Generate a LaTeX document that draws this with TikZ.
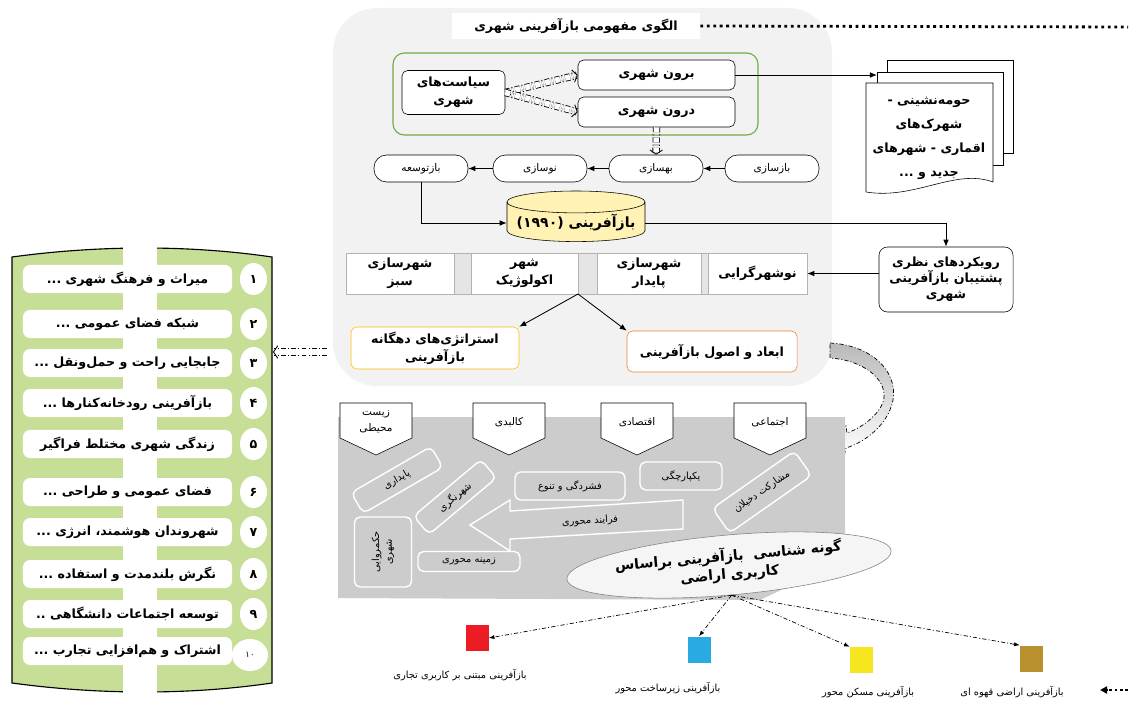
\documentclass[tikz,border=0pt]{standalone}
\usepackage{fontspec}
\usetikzlibrary{arrows.meta,shapes.geometric}
\TeXXeTstate=1
\newfontfamily\farsi[Script=Arabic]{DejaVu Sans}
\newcommand{\fa}[1]{\beginR #1\endR}
\definecolor{grn}{RGB}{112,173,71}
\definecolor{lgrn}{RGB}{199,222,150}
\definecolor{yel}{RGB}{255,192,0}
\definecolor{org}{RGB}{237,125,49}
\definecolor{cyl}{RGB}{255,242,180}
\definecolor{sqred}{RGB}{237,28,36}
\definecolor{sqblue}{RGB}{41,171,226}
\definecolor{sqyel}{RGB}{245,230,31}
\definecolor{sqbrn}{RGB}{184,144,46}
\begin{document}
\begin{tikzpicture}[x=0.025cm, y=-0.025cm,
  every node/.style={font=\farsi\fontsize{8}{11}\selectfont, align=center, inner sep=1pt},
  box/.style={draw, rounded corners=4pt, fill=white, font=\farsi\bfseries\fontsize{9}{12.5}\selectfont},
  pill/.style={draw, rounded corners=9pt, fill=white, minimum width=2.35cm, minimum height=0.675cm, font=\farsi\fontsize{7.5}{9}\selectfont},
  rowbox/.style={draw=gray!60, fill=white, minimum height=1.025cm, font=\farsi\bfseries\fontsize{9}{12.5}\selectfont},
  item/.style={fill=white, rounded corners=5pt, minimum width=5.225cm, minimum height=0.7cm, font=\farsi\bfseries\fontsize{9}{12}\selectfont},
  num/.style={ellipse, fill=white, minimum width=0.675cm, minimum height=0.8cm, inner sep=0pt, font=\farsi\bfseries\fontsize{9}{12}\selectfont},
  wbox/.style={draw=white, line width=1pt, rounded corners=4pt, minimum height=0.6cm, font=\farsi\fontsize{7}{9}\selectfont},
  tabtext/.style={font=\farsi\fontsize{7.5}{11}\selectfont},
  arr/.style={-{Latex[length=5pt,width=4pt]}, line width=0.6pt},
  hollow/.style={double, double distance=4pt, line width=0.6pt, dash pattern=on 3.5pt off 1.5pt on 0.8pt off 1.5pt, -{Straight Barb[length=3pt,width=9pt]}},
  dd/.style={dash pattern=on 3pt off 1.5pt on 0.7pt off 1.5pt, -{Latex[length=4pt,width=3pt]}, line width=0.5pt},
  sq/.style={minimum width=0.575cm, minimum height=0.65cm, inner sep=0pt},
  lbl/.style={font=\farsi\fontsize{7}{9}\selectfont}
]
\useasboundingbox (0,0) rectangle (1130,702);
% upper panel
\fill[gray!10, rounded corners=1.1cm] (333,8) rectangle (832,386);
\node[fill=white, minimum width=6.2cm, minimum height=0.65cm, font=\farsi\bfseries\fontsize{9}{11}\selectfont] (ttl) at (576,26) {\fa{الگوی مفهومی بازآفرینی شهری}};
\coordinate (dtl) at (1128,27);
\draw[line width=2pt, dash pattern=on 2pt off 2.6pt] (ttl.east) -- (dtl);
\draw[grn, line width=0.8pt, rounded corners=8pt] (393,53) rectangle (758,135);
\node[box, minimum width=2.575cm, minimum height=1.1cm] (pol) at (453.5,92.5) {\fa{سیاست^^^^200cهای}\\\fa{شهری}};
\node[box, minimum width=3.925cm, minimum height=0.75cm] (bor) at (656.5,75) {\fa{برون شهری}};
\node[box, minimum width=3.925cm, minimum height=0.75cm] (dar) at (656.5,112) {\fa{درون شهری}};
\draw[hollow] (pol.east) -- (bor.west);
\draw[hollow] (pol.east) -- (dar.west);
% documents
\draw[fill=white] (887,60) rectangle (1013,153);
\draw[fill=white] (877,72) rectangle (1003,165);
\draw[fill=white] (866,83) -- (993,83) -- (993,182) .. controls (955,168) and (915,200) .. (866,192) -- cycle;
\node[font=\farsi\bfseries\fontsize{9}{17}\selectfont] (doc) at (929,138) {\fa{حومه^^^^200cنشینی -}\\\fa{شهرک^^^^200cهای}\\\fa{اقماری - شهرهای}\\\fa{جدید و ...}};
\coordinate (dm) at (877,75);
\draw[arr] (bor.east) -- (dm);
% pills
\node[pill] (p0) at (421,168.5) {\fa{بازتوسعه}};
\node[pill] (p1) at (540,168.5) {\fa{نوسازی}};
\node[pill] (p2) at (656,168.5) {\fa{بهسازی}};
\node[pill] (p3) at (772,168.5) {\fa{بازسازی}};
\draw[hollow] (dar.south) -- (p2.north);
\draw[arr] (p3.west) -- (p2.east);
\draw[arr] (p2.west) -- (p1.east);
\draw[arr] (p1.west) -- (p0.east);
\node[cylinder, shape border rotate=90, aspect=0.18, draw, fill=cyl, minimum width=3.45cm, minimum height=1.1cm, font=\farsi\bfseries\fontsize{10}{12}\selectfont] (cy) at (576,223) {\fa{بازآفرینی (۱۹۹۰)}};
\draw[arr] (p0.south) |- (cy.west);
\node[box, minimum width=3.35cm, minimum height=1.625cm, rounded corners=6pt, font=\farsi\bfseries\fontsize{9}{11.5}\selectfont] (rv) at (946,279.5) {\fa{رویکردهای نظری}\\\fa{پشتیبان بازآفرینی}\\\fa{شهری}};
\draw[arr] (cy.east) -| (rv.north);
% row of four
\draw[gray!60, fill=gray!20] (346,253) rectangle (807,294);
\node[rowbox, minimum width=2.7cm] (rs1) at (400,273.5) {\fa{شهرسازی}\\\fa{سبز}};
\node[rowbox, minimum width=2.675cm] (rs2) at (524.5,273.5) {\fa{شهر}\\\fa{اکولوژیک}};
\node[rowbox, minimum width=2.6cm] (rs3) at (649,273.5) {\fa{شهرسازی}\\\fa{پایدار}};
\node[rowbox, minimum width=2.475cm] (rs4) at (757.5,273.5) {\fa{نوشهرگرایی}};
\draw[arr] (rv.west |- rs4.east) -- (rs4.east);
\node[box, draw=yel, minimum width=4.2cm, minimum height=1.05cm] (st) at (435,348) {\fa{استراتژی^^^^200cهای دهگانه}\\\fa{بازآفرینی}};
\node[box, draw=org, minimum width=4.25cm, minimum height=1.025cm] (ab) at (712,351.5) {\fa{ابعاد و اصول بازآفرینی}};
\coordinate (rb) at (578,294);
\draw[arr] (rb) -- (st.north east);
\draw[arr] (rb) -- (ab.north west);
% list panel
\fill[lgrn] (12,257) .. controls (100,245) and (190,245) .. (272,257) -- (272,683) .. controls (190,695) and (100,695) .. (12,683) -- cycle;
\draw[line width=0.8pt] (12,257) .. controls (100,245) and (190,245) .. (272,257) -- (272,683) .. controls (190,695) and (100,695) .. (12,683) -- cycle;
\fill[white] (123,243) rectangle (157,697);
\node[item] (it1) at (127.5,279) {\fa{میراث و فرهنگ شهری ...}};
\node[num] (n1) at (253.5,279) {۱};
\node[item] (it2) at (127.5,324) {\fa{شبکه فضای عمومی ...}};
\node[num] (n2) at (253.5,324) {۲};
\node[item] (it3) at (127.5,363) {\fa{جابجایی راحت و حمل^^^^200cونقل ...}};
\node[num] (n3) at (253.5,363) {۳};
\node[item] (it4) at (127.5,403) {\fa{بازآفرینی رودخانه^^^^200cکنارها ...}};
\node[num] (n4) at (253.5,403) {۴};
\node[item] (it5) at (127.5,444) {\fa{زندگی شهری مختلط فراگیر}};
\node[num] (n5) at (253.5,444) {۵};
\node[item] (it6) at (127.5,492) {\fa{فضای عمومی و طراحی ...}};
\node[num] (n6) at (253.5,492) {۶};
\node[item] (it7) at (127.5,532) {\fa{شهروندان هوشمند، انرژی ...}};
\node[num] (n7) at (253.5,532) {۷};
\node[item] (it8) at (127.5,574) {\fa{نگرش بلندمدت و استفاده ...}};
\node[num] (n8) at (253.5,574) {۸};
\node[item] (it9) at (127.5,614) {\fa{توسعه اجتماعات دانشگاهی ..}};
\node[num] (n9) at (253.5,614) {۹};
\node[item] (it10) at (127.5,651) {\fa{اشتراک و هم^^^^200cافزایی تجارب ...}};
\node[num, minimum width=0.9cm, font=\farsi\fontsize{6}{8}\selectfont] (n10) at (250,655) {۱۰};
\coordinate (lt) at (327,352);
\coordinate (lh) at (273,352);
\draw[hollow] (lt) -- (lh);
% curved arrow
\path[draw, top color=gray!55, bottom color=white, dash pattern=on 3pt off 1.5pt on 0.7pt off 1.5pt, line width=0.5pt] (830,343) .. controls (870,345) and (898,370) .. (893,400) .. controls (888,425) and (865,442) .. (846,448) -- (844,456) -- (832,442) -- (846,426) -- (847,433) .. controls (864,427) and (882,412) .. (884,398) .. controls (886,378) and (862,360) .. (830,358) -- cycle;
% lower band
\fill[black!20] (338,417) -- (845,417) -- (845,560) -- (760,600) -- (338,598) -- cycle;
\draw[fill=white] (340,403) -- (412,403) -- (412,438) -- (376,455) -- (340,438) -- cycle;
\node[tabtext] (tb1) at (376,422) {\fa{زیست}\\\fa{محیطی}};
\draw[fill=white] (473,403) -- (545,403) -- (545,438) -- (509,455) -- (473,438) -- cycle;
\node[tabtext] (tb2) at (509,422) {\fa{کالبدی}};
\draw[fill=white] (601,403) -- (673,403) -- (673,438) -- (637,455) -- (601,438) -- cycle;
\node[tabtext] (tb3) at (637,422) {\fa{اقتصادی}};
\draw[fill=white] (734,403) -- (806,403) -- (806,438) -- (770,455) -- (734,438) -- cycle;
\node[tabtext] (tb4) at (770,422) {\fa{اجتماعی}};
\node[wbox, rotate=30, minimum width=2.3cm] (pay) at (397,480) {\fa{پایداری}};
\node[wbox, rotate=40, minimum width=2.2cm] (shn) at (455,497) {\fa{شهرنگری}};
\node[wbox, minimum width=2.75cm, minimum height=0.7cm] (fsh) at (570,486) {\fa{فشردگی و تنوع}};
\node[wbox, minimum width=2.05cm, minimum height=0.7cm] (yek) at (681,476) {\fa{یکپارچگی}};
\node[wbox, rotate=35, minimum width=2.5cm, minimum height=0.75cm] (mos) at (762,492) {\fa{مشارکت دخیلان}};
\node[wbox, rotate=90, minimum width=1.75cm, minimum height=1.425cm] (hok) at (383,552) {\fa{حکمروایی}\\\fa{شهری}};
\node[wbox, minimum width=2.55cm, minimum height=0.5cm] (zam) at (469,561.5) {\fa{زمینه محوری}};
\draw[white, line width=1pt] (470,525) -- (510,500) -- (510,511) -- (683,500) -- (683,529) -- (510,539) -- (510,551) -- cycle;
\node[rotate=3, font=\farsi\fontsize{7}{9}\selectfont] (frd) at (590,521) {\fa{فرایند محوری}};
\node[ellipse, draw=gray, fill=gray!8, rotate=5, minimum width=7.1cm, minimum height=1.5cm, font=\farsi\bfseries\fontsize{10}{13}\selectfont] (el) at (729,565) {\fa{گونه شناسی\ \ بازآفرینی براساس}\\\fa{کاربری اراضی}};
% land use types
\node[sq, fill=sqred] (sq1) at (477,638) {};
\node[sq, fill=sqblue] (sq2) at (699,649.5) {};
\node[sq, fill=sqyel] (sq3) at (861.5,660) {};
\node[sq, fill=sqbrn] (sq4) at (1031.5,658.5) {};
\draw[dd] (el.south) -- (sq1.east);
\draw[dd] (el.south) -- (sq2.north);
\draw[dd] (el.south) -- (sq3.north west);
\draw[dd] (el.south) -- (sq4.north west);
\node[lbl] (lb1) at (460,675) {\fa{بازآفرینی مبتنی بر کاربری تجاری}};
\node[lbl] (lb2) at (668,688) {\fa{بازآفرینی زیرساخت محور}};
\node[lbl] (lb3) at (868,692) {\fa{بازآفرینی مسکن محور}};
\node[lbl] (lb4) at (1012,692) {\fa{بازآفرینی اراضی قهوه ای}};
\coordinate (br1) at (1128,690);
\coordinate (br2) at (1100,690);
\draw[line width=1.8pt, dash pattern=on 1.8pt off 2pt, -{Triangle[length=5pt,width=5pt]}] (br1) -- (br2);
\end{tikzpicture}
\end{document}
